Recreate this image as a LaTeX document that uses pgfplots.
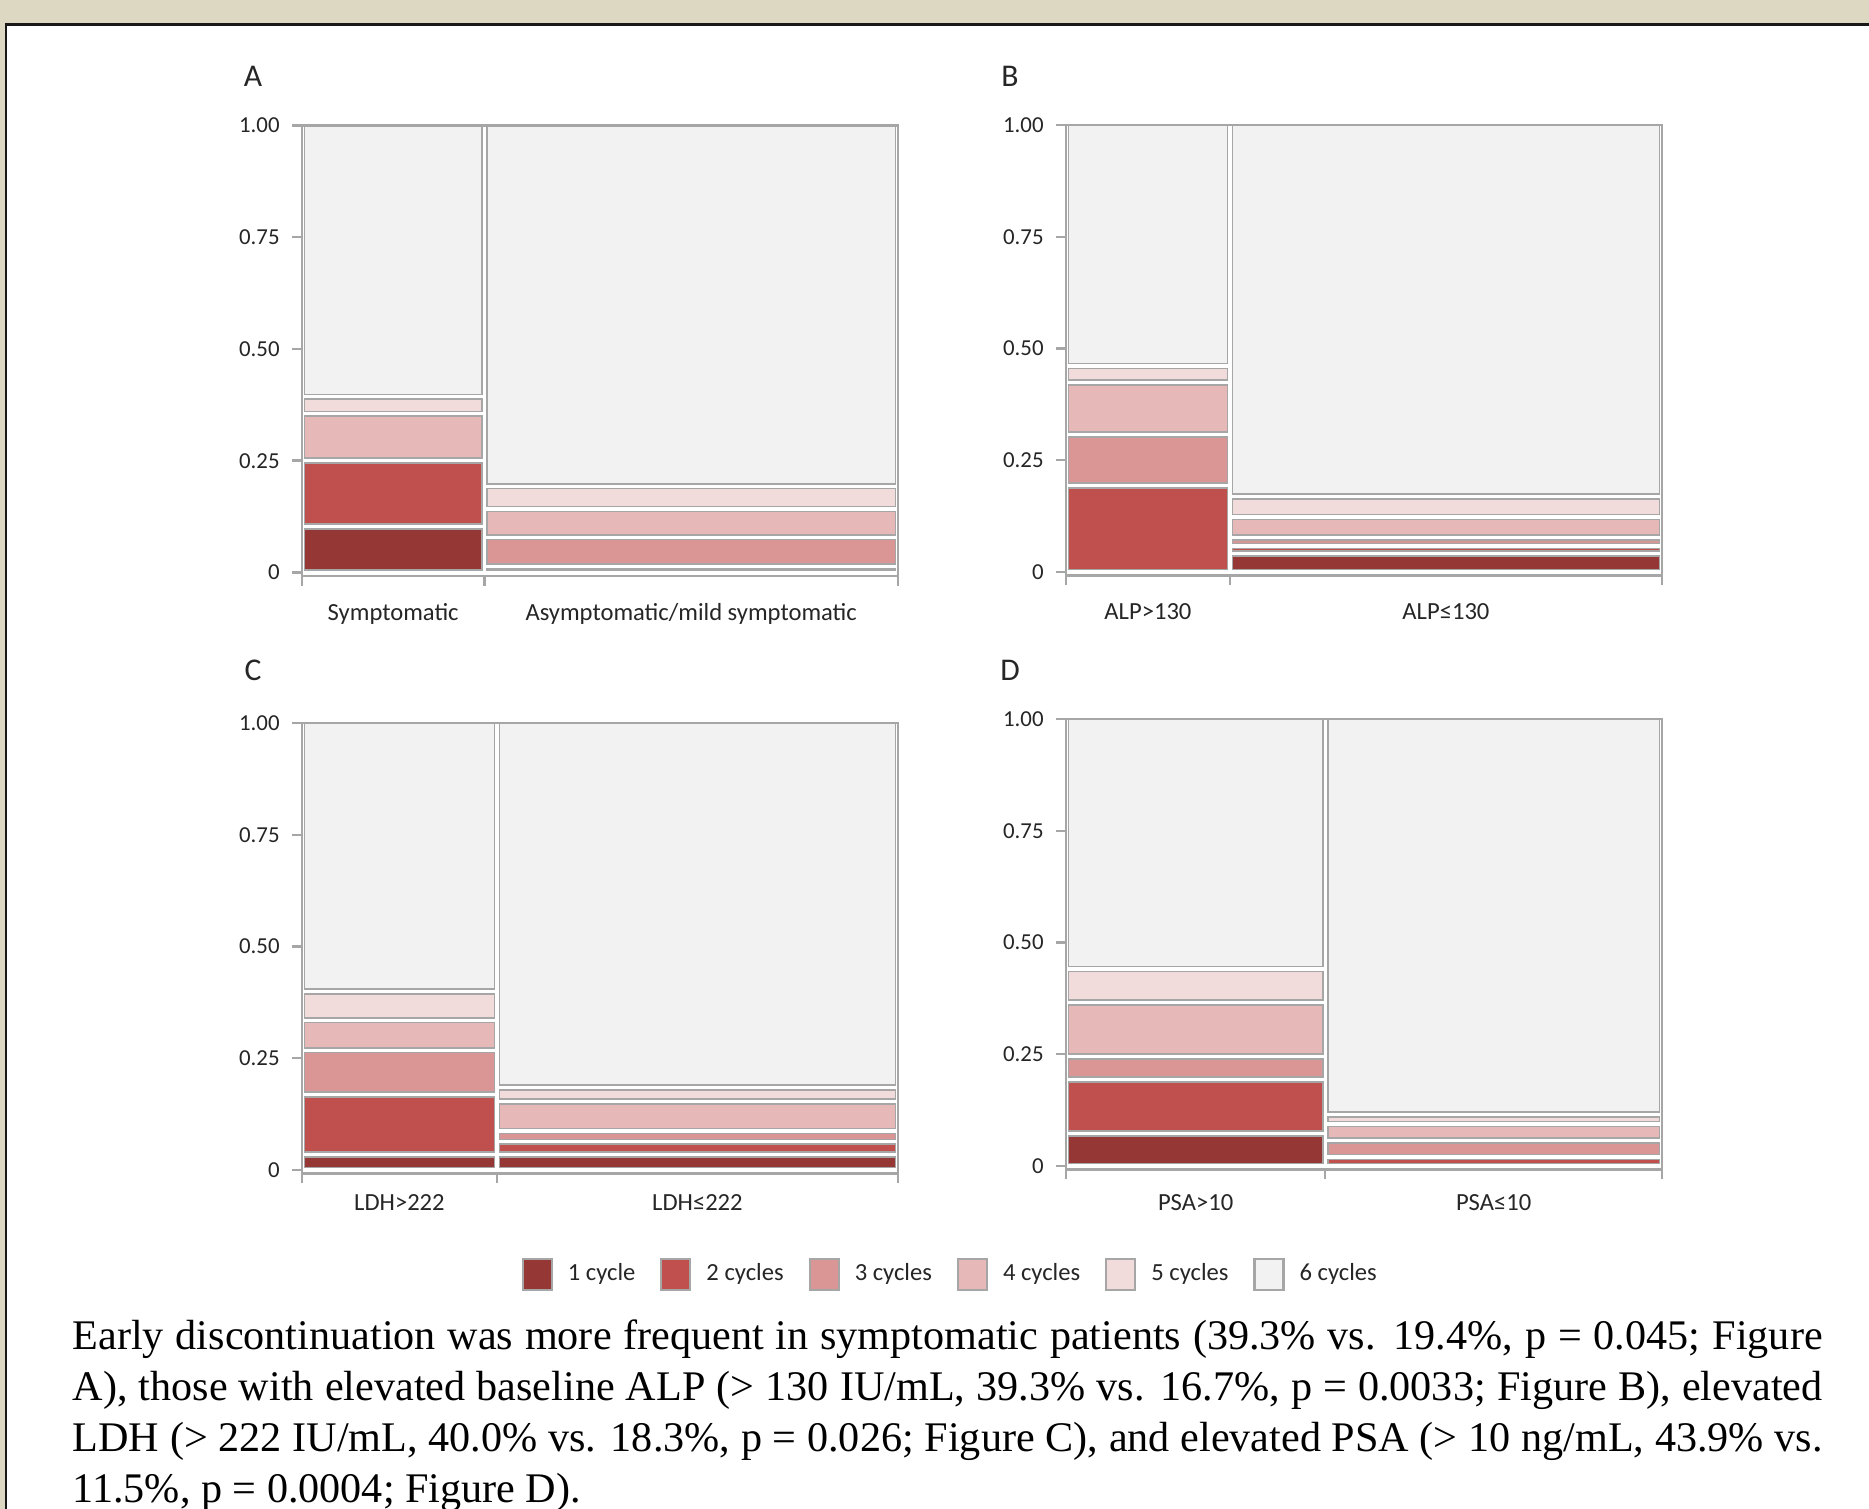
\documentclass[border=0pt]{standalone}
\usepackage{pgfplots}
\pgfplotsset{compat=1.18}
\usepackage{fontspec}
\newfontfamily\chartfont{Carlito}
\newfontfamily\capfont{Liberation Serif}
\definecolor{bgbeige}{RGB}{221,216,194}
\definecolor{c1}{RGB}{149,55,53}
\definecolor{c2}{RGB}{192,80,77}
\definecolor{c3}{RGB}{217,150,148}
\definecolor{c4}{RGB}{230,185,184}
\definecolor{c5}{RGB}{242,220,219}
\definecolor{c6}{RGB}{242,242,242}
\definecolor{bgray}{RGB}{166,166,166}
\definecolor{txt}{RGB}{38,38,38}

\def\dx{0.0042}
\def\dy{0.0055}
% one mosaic cell: x0, x1, y0, y1 (cumulative share), colour
\newcommand\seg[5]{%
  \pgfmathsetmacro\xa{#1+\dx}%
  \pgfmathsetmacro\xb{#2-\dx}%
  \pgfmathsetmacro\ya{#3+\dy}%
  \pgfmathsetmacro\yb{#4>0.999 ? #4-0.0015 : #4-\dy}%
  \edef\segcmd{\noexpand\addplot[fill=#5,draw=bgray,line width=0.45pt,forget plot] coordinates {(\xa,\ya) (\xb,\ya) (\xb,\yb) (\xa,\yb)} -- cycle;}%
  \segcmd}

\pgfplotsset{mosaic/.style={
  scale only axis, width=5.96cm, height=4.503cm,
  xmin=0, xmax=1, ymin=-0.0074, ymax=1,
  axis line style={bgray, line width=0.7pt},
  tick align=outside, tick pos=left,
  major tick style={bgray, line width=0.7pt},
  major tick length=0.1cm,
  ytick={0,0.25,0.5,0.75,1},
  yticklabels={0,0.25,0.50,0.75,1.00},
  yticklabel style={font=\chartfont\fontsize{6.5}{7}\selectfont, text=txt},
  xticklabels={},
  extra x tick style={major tick length=0pt,
     xticklabel style={font=\chartfont\fontsize{7}{8}\selectfont, text=txt, anchor=center}},
  clip=false,
  anchor=north west,
}}

\begin{document}
\begin{tikzpicture}
\useasboundingbox (0,0) rectangle (18.69,15.09);
\fill[bgbeige] (0,0) rectangle (18.69,15.09);
\fill[white] (0.06,0) rectangle (18.69,14.845);
\draw[line width=0.022cm, black!90] (0.06,-0.1) -- (0.06,14.845) -- (18.8,14.845);

% Panel A
\begin{axis}[mosaic, at={(3.02cm,13.835cm)},
  xtick={0,0.306,1},
  extra x ticks={0.153,0.653},
  extra x tick labels={Symptomatic,Asymptomatic/mild symptomatic},
  extra x tick style={xticklabel style={yshift=-0.38cm}}]
\seg{0}{0.306}{0}{0.103}{c1}
\seg{0}{0.306}{0.103}{0.250}{c2}
\seg{0}{0.306}{0.250}{0.355}{c4}
\seg{0}{0.306}{0.355}{0.393}{c5}
\seg{0}{0.306}{0.393}{1}{c6}
\seg{0.306}{1}{0}{0.013}{c2}
\seg{0.306}{1}{0.013}{0.079}{c3}
\seg{0.306}{1}{0.079}{0.142}{c4}
\seg{0.306}{1}{0.142}{0.193}{c5}
\seg{0.306}{1}{0.193}{1}{c6}
\end{axis}

% Panel B
\begin{axis}[mosaic, at={(10.66cm,13.84cm)},
  xtick={0,0.275,1},
  extra x ticks={0.1375,0.6375},
  extra x tick labels={ALP>130,ALP≤130},
  extra x tick style={xticklabel style={yshift=-0.36cm}}]
\seg{0}{0.275}{0}{0.193}{c2}
\seg{0}{0.275}{0.193}{0.308}{c3}
\seg{0}{0.275}{0.308}{0.424}{c4}
\seg{0}{0.275}{0.424}{0.461}{c5}
\seg{0}{0.275}{0.461}{1}{c6}
\seg{0.275}{1}{0}{0.041}{c1}
\seg{0.275}{1}{0.041}{0.058}{c2}
\seg{0.275}{1}{0.058}{0.077}{c3}
\seg{0.275}{1}{0.077}{0.123}{c4}
\seg{0.275}{1}{0.123}{0.169}{c5}
\seg{0.275}{1}{0.169}{1}{c6}
\end{axis}

% Panel C
\begin{axis}[mosaic, at={(3.02cm,7.86cm)},
  xtick={0,0.327,1},
  extra x ticks={0.1635,0.6635},
  extra x tick labels={LDH>222,LDH≤222},
  extra x tick style={xticklabel style={yshift=-0.29cm}},
  legend columns=6,
  legend style={draw=none, fill=none, at={(1.086,-0.224)}, anchor=center,
    font=\chartfont\fontsize{7}{8}\selectfont, text=txt,
    nodes={inner xsep=0pt, inner ysep=1pt},
    /tikz/every odd column/.append style={column sep=0.15cm},
    /tikz/every even column/.append style={column sep=0.25cm}},
  legend image code/.code={\draw[#1] (0cm,-0.155cm) rectangle (0.29cm,0.155cm);}]
\seg{0}{0.327}{0}{0.035}{c1}
\seg{0}{0.327}{0.035}{0.169}{c2}
\seg{0}{0.327}{0.169}{0.268}{c3}
\seg{0}{0.327}{0.268}{0.335}{c4}
\seg{0}{0.327}{0.335}{0.399}{c5}
\seg{0}{0.327}{0.399}{1}{c6}
\seg{0.327}{1}{0}{0.035}{c1}
\seg{0.327}{1}{0.035}{0.063}{c2}
\seg{0.327}{1}{0.063}{0.087}{c3}
\seg{0.327}{1}{0.087}{0.153}{c4}
\seg{0.327}{1}{0.153}{0.184}{c5}
\seg{0.327}{1}{0.184}{1}{c6}
\addlegendimage{fill=c1,draw=bgray,line width=0.6pt}
\addlegendimage{fill=c2,draw=bgray,line width=0.6pt}
\addlegendimage{fill=c3,draw=bgray,line width=0.6pt}
\addlegendimage{fill=c4,draw=bgray,line width=0.6pt}
\addlegendimage{fill=c5,draw=bgray,line width=0.6pt}
\addlegendimage{fill=c6,draw=bgray,line width=0.6pt}
\legend{1 cycle,2 cycles,3 cycles,4 cycles,5 cycles,6 cycles}
\end{axis}

% Panel D
\begin{axis}[mosaic, at={(10.66cm,7.90cm)},
  xtick={0,0.435,1},
  extra x ticks={0.2175,0.7175},
  extra x tick labels={PSA>10,PSA≤10},
  extra x tick style={xticklabel style={yshift=-0.33cm}}]
\seg{0}{0.435}{0}{0.073}{c1}
\seg{0}{0.435}{0.073}{0.193}{c2}
\seg{0}{0.435}{0.193}{0.245}{c3}
\seg{0}{0.435}{0.245}{0.366}{c4}
\seg{0}{0.435}{0.366}{0.441}{c5}
\seg{0}{0.435}{0.441}{1}{c6}
\seg{0.435}{1}{0}{0.020}{c2}
\seg{0.435}{1}{0.020}{0.057}{c3}
\seg{0.435}{1}{0.057}{0.094}{c4}
\seg{0.435}{1}{0.094}{0.115}{c5}
\seg{0.435}{1}{0.115}{1}{c6}
\end{axis}

% panel letters
\begin{scope}[every node/.style={font=\chartfont\fontsize{9}{10}\selectfont, text=txt}]
\node at (2.53,14.33) {A};
\node at (10.10,14.33) {B};
\node at (2.53,8.39) {C};
\node at (10.10,8.39) {D};
\end{scope}

% caption
\begin{scope}[every node/.style={anchor=base west, inner sep=0pt, font=\capfont\fontsize{12}{14}\selectfont}]
\node at (0.72,1.59) {\makebox[17.5cm][s]{Early discontinuation was more frequent in symptomatic patients (39.3\% vs. 19.4\%, p = 0.045; Figure}};
\node at (0.72,1.08) {\makebox[17.5cm][s]{A), those with elevated baseline ALP (> 130 IU/mL, 39.3\% vs. 16.7\%, p = 0.0033; Figure B), elevated}};
\node at (0.72,0.57) {\makebox[17.5cm][s]{LDH (> 222 IU/mL, 40.0\% vs. 18.3\%, p = 0.026; Figure C), and elevated PSA (> 10 ng/mL, 43.9\% vs.}};
\node at (0.72,0.06) {11.5\%, p = 0.0004; Figure D).};
\end{scope}
\end{tikzpicture}
\end{document}
